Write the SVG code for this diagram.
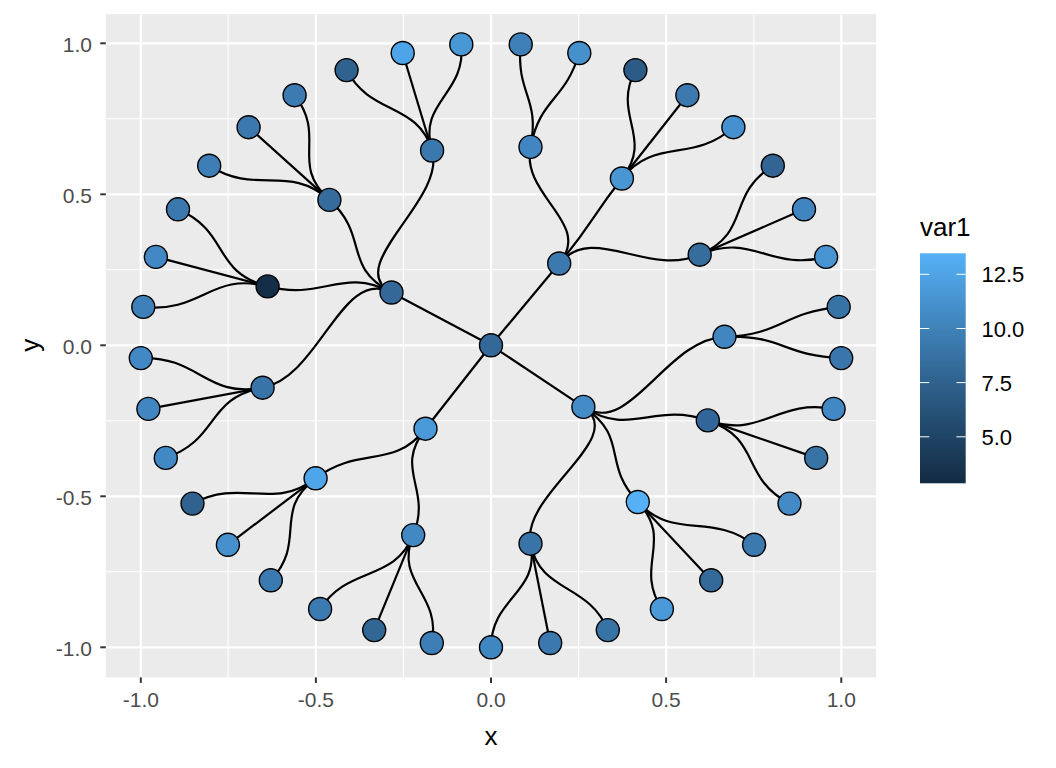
<svg xmlns="http://www.w3.org/2000/svg" width="1056" height="768" viewBox="0 0 1056 768">
<defs>
<linearGradient id="bar" x1="0" y1="1" x2="0" y2="0">
<stop offset="0" stop-color="#132B43"/>
<stop offset="0.25" stop-color="#224A6D"/>
<stop offset="0.5" stop-color="#336A98"/>
<stop offset="0.75" stop-color="#448DC7"/>
<stop offset="1" stop-color="#56B1F7"/>
</linearGradient>
<clipPath id="panel"><rect x="105.8" y="14.2" width="770.4" height="663.2"/></clipPath>
</defs>
<style>
.gmaj{stroke:#FFFFFF;stroke-width:2.2;fill:none}
.gmin{stroke:#FFFFFF;stroke-width:1.1;fill:none}
.tick{stroke:#333333;stroke-width:2;fill:none}
.lt{stroke:#FFFFFF;stroke-width:1;fill:none}
.edge{fill:none;stroke:#000000;stroke-width:2.2}
.nd{stroke:#000000;stroke-width:1.4}
.at{font-family:"Liberation Sans",Arial,sans-serif;font-size:21px;fill:#4D4D4D}
.ttl{font-family:"Liberation Sans",Arial,sans-serif;font-size:26px;fill:#000000}
.lg{font-family:"Liberation Sans",Arial,sans-serif;font-size:22px;fill:#000000}
</style>
<rect x="0" y="0" width="1056" height="768" fill="#FFFFFF"/>
<g id="panel-bg">
<rect x="105.8" y="14.2" width="770.4" height="663.2" fill="#EBEBEB"/>
<g clip-path="url(#panel)">
<g class="gmin">
<line x1="228.1" y1="14.2" x2="228.1" y2="677.4"/>
<line x1="403.4" y1="14.2" x2="403.4" y2="677.4"/>
<line x1="578.6" y1="14.2" x2="578.6" y2="677.4"/>
<line x1="753.9" y1="14.2" x2="753.9" y2="677.4"/>
<line x1="105.8" y1="118.8" x2="876.2" y2="118.8"/>
<line x1="105.8" y1="269.8" x2="876.2" y2="269.8"/>
<line x1="105.8" y1="420.8" x2="876.2" y2="420.8"/>
<line x1="105.8" y1="571.8" x2="876.2" y2="571.8"/>
</g>
<g class="gmaj">
<line x1="140.8" y1="14.2" x2="140.8" y2="677.4"/>
<line x1="315.9" y1="14.2" x2="315.9" y2="677.4"/>
<line x1="491" y1="14.2" x2="491" y2="677.4"/>
<line x1="666.1" y1="14.2" x2="666.1" y2="677.4"/>
<line x1="841.3" y1="14.2" x2="841.3" y2="677.4"/>
<line x1="105.8" y1="43.3" x2="876.2" y2="43.3"/>
<line x1="105.8" y1="194.3" x2="876.2" y2="194.3"/>
<line x1="105.8" y1="345.3" x2="876.2" y2="345.3"/>
<line x1="105.8" y1="496.3" x2="876.2" y2="496.3"/>
<line x1="105.8" y1="647.3" x2="876.2" y2="647.3"/>
</g>
</g>
</g>
<g id="axes">
<g class="tick">
<line x1="100.3" y1="43.3" x2="105.8" y2="43.3"/>
<line x1="100.3" y1="194.3" x2="105.8" y2="194.3"/>
<line x1="100.3" y1="345.3" x2="105.8" y2="345.3"/>
<line x1="100.3" y1="496.3" x2="105.8" y2="496.3"/>
<line x1="100.3" y1="647.3" x2="105.8" y2="647.3"/>
<line x1="140.8" y1="677.4" x2="140.8" y2="682.9"/>
<line x1="315.9" y1="677.4" x2="315.9" y2="682.9"/>
<line x1="491" y1="677.4" x2="491" y2="682.9"/>
<line x1="666.1" y1="677.4" x2="666.1" y2="682.9"/>
<line x1="841.3" y1="677.4" x2="841.3" y2="682.9"/>
</g>
<g class="at" text-anchor="end">
<text x="92" y="52.1">1.0</text>
<text x="92" y="203.1">0.5</text>
<text x="92" y="354.1">0.0</text>
<text x="92" y="505.1">-0.5</text>
<text x="92" y="656.1">-1.0</text>
</g>
<g class="at" text-anchor="middle">
<text x="140.8" y="707.3">-1.0</text>
<text x="315.9" y="707.3">-0.5</text>
<text x="491" y="707.3">0.0</text>
<text x="666.1" y="707.3">0.5</text>
<text x="841.3" y="707.3">1.0</text>
</g>
<text class="ttl" x="491" y="745" text-anchor="middle">x</text>
<text class="ttl" x="39" y="345.3" text-anchor="middle" transform="rotate(-90 39 345.3)">y</text>
</g>
<g id="connectors">
<path class="edge" d="M491,345.3 L391.5,292.5"/>
<path class="edge" d="M491,345.3 L559.2,263.5"/>
<path class="edge" d="M491,345.3 L583.4,406.9"/>
<path class="edge" d="M491,345.3 L425.5,428.7"/>
<path class="edge" d="M391.5,292.5 C341.8,266.2 446.8,199.2 432.1,150.5"/>
<path class="edge" d="M391.5,292.5 C341.8,266.2 369.8,236.3 329.4,199.9"/>
<path class="edge" d="M391.5,292.5 C341.8,266.2 323.4,301.1 267.6,286.4"/>
<path class="edge" d="M391.5,292.5 C341.8,266.2 319.7,377.1 262.6,387.7"/>
<path class="edge" d="M559.2,263.5 C593.2,222.7 647.5,277.3 699.7,254.7"/>
<path class="edge" d="M559.2,263.5 C593.2,222.7 589.2,220.2 621.9,178.5"/>
<path class="edge" d="M559.2,263.5 C593.2,222.7 520.6,196.5 530.5,146.9"/>
<path class="edge" d="M583.4,406.9 C629.7,437.7 666.1,338.9 724.5,336.8"/>
<path class="edge" d="M583.4,406.9 C629.7,437.7 653.6,401.6 707.8,420.4"/>
<path class="edge" d="M583.4,406.9 C629.7,437.7 601.1,462.8 637.8,502.0"/>
<path class="edge" d="M583.4,406.9 C629.7,437.7 520.6,494.1 530.5,543.7"/>
<path class="edge" d="M425.5,428.7 C392.8,470.4 359.5,445.1 315.6,478.3"/>
<path class="edge" d="M425.5,428.7 C392.8,470.4 432.6,487.7 413.2,535.1"/>
<path class="edge" d="M432.1,150.5 C417.4,101.8 466.2,94.5 461.3,44.4"/>
<path class="edge" d="M432.1,150.5 L402.7,53.0"/>
<path class="edge" d="M432.1,150.5 C417.4,101.8 370.7,116.0 346.6,70.1"/>
<path class="edge" d="M329.4,199.9 C289.0,163.6 327.4,136.8 294.6,95.2"/>
<path class="edge" d="M329.4,199.9 L248.6,127.2"/>
<path class="edge" d="M329.4,199.9 C289.0,163.6 256.2,195.7 209.2,165.7"/>
<path class="edge" d="M267.6,286.4 C211.7,271.6 230.2,232.0 178.0,209.3"/>
<path class="edge" d="M267.6,286.4 L155.9,256.9"/>
<path class="edge" d="M267.6,286.4 C211.7,271.6 201.3,313.3 143.3,306.9"/>
<path class="edge" d="M262.6,387.7 C205.5,398.3 199.2,356.0 140.8,358.1"/>
<path class="edge" d="M262.6,387.7 L148.4,408.9"/>
<path class="edge" d="M262.6,387.7 C205.5,398.3 220.0,439.1 165.8,457.9"/>
<path class="edge" d="M699.7,254.7 C751.8,232.0 770.3,271.6 826.1,256.9"/>
<path class="edge" d="M699.7,254.7 L804.0,209.3"/>
<path class="edge" d="M699.7,254.7 C751.8,232.0 725.8,195.7 772.8,165.7"/>
<path class="edge" d="M621.9,178.5 C654.7,136.8 693.0,163.6 733.4,127.2"/>
<path class="edge" d="M621.9,178.5 L687.4,95.2"/>
<path class="edge" d="M621.9,178.5 C654.7,136.8 611.3,116.0 635.4,70.1"/>
<path class="edge" d="M530.5,146.9 C540.4,97.3 564.6,101.8 579.3,53.0"/>
<path class="edge" d="M530.5,146.9 C540.4,97.3 515.8,94.5 520.7,44.4"/>
<path class="edge" d="M724.5,336.8 C782.8,334.6 782.8,356.0 841.2,358.1"/>
<path class="edge" d="M724.5,336.8 C782.8,334.6 780.7,313.3 838.7,306.9"/>
<path class="edge" d="M707.8,420.4 C762.0,439.1 739.8,477.2 789.5,503.6"/>
<path class="edge" d="M707.8,420.4 L816.2,457.9"/>
<path class="edge" d="M707.8,420.4 C762.0,439.1 776.5,398.3 833.6,408.9"/>
<path class="edge" d="M637.8,502.0 C674.5,541.1 633.5,565.0 661.9,609.0"/>
<path class="edge" d="M637.8,502.0 L711.2,580.3"/>
<path class="edge" d="M637.8,502.0 C674.5,541.1 710.3,511.6 754.1,544.8"/>
<path class="edge" d="M530.5,543.7 C540.4,593.4 491.0,597.0 491.0,647.3"/>
<path class="edge" d="M530.5,543.7 L550.2,643.0"/>
<path class="edge" d="M530.5,543.7 C540.4,593.4 588.3,582.6 607.8,630.1"/>
<path class="edge" d="M315.6,478.3 C271.8,511.6 242.3,477.2 192.5,503.6"/>
<path class="edge" d="M315.6,478.3 L227.9,544.8"/>
<path class="edge" d="M315.6,478.3 C271.8,511.6 307.5,541.1 270.8,580.3"/>
<path class="edge" d="M413.2,535.1 C393.7,582.6 348.6,565.0 320.1,609.0"/>
<path class="edge" d="M413.2,535.1 L374.2,630.1"/>
<path class="edge" d="M413.2,535.1 C393.7,582.6 441.6,593.4 431.8,643.0"/>
</g>
<g id="nodes">
<g id="n-root"><circle class="nd" cx="491" cy="345.3" r="11.5" fill="#336898"/></g>
<g id="n-a"><circle class="nd" cx="391.5" cy="292.5" r="11.5" fill="#336898"/></g>
<g id="n-b"><circle class="nd" cx="559.2" cy="263.5" r="11.5" fill="#3B79AF"/></g>
<g id="n-c"><circle class="nd" cx="583.4" cy="406.9" r="11.5" fill="#438CC8"/></g>
<g id="n-d"><circle class="nd" cx="425.5" cy="428.7" r="11.5" fill="#4A9ADA"/></g>
<g id="n-a1"><circle class="nd" cx="432.1" cy="150.5" r="11.5" fill="#3A78AD"/></g>
<g id="n-a2"><circle class="nd" cx="329.4" cy="199.9" r="11.5" fill="#356C9C"/></g>
<g id="n-a3"><circle class="nd" cx="267.6" cy="286.4" r="11.5" fill="#152E48"/></g>
<g id="n-a4"><circle class="nd" cx="262.6" cy="387.7" r="11.5" fill="#3874A7"/></g>
<g id="n-b1"><circle class="nd" cx="699.7" cy="254.7" r="11.5" fill="#356D9D"/></g>
<g id="n-b2"><circle class="nd" cx="621.9" cy="178.5" r="11.5" fill="#4896D4"/></g>
<g id="n-b3"><circle class="nd" cx="530.5" cy="146.9" r="11.5" fill="#4186C2"/></g>
<g id="n-c1"><circle class="nd" cx="724.5" cy="336.8" r="11.5" fill="#4186C1"/></g>
<g id="n-c2"><circle class="nd" cx="707.8" cy="420.4" r="11.5" fill="#32669A"/></g>
<g id="n-c3"><circle class="nd" cx="637.8" cy="502.0" r="11.5" fill="#56B0F6"/></g>
<g id="n-c4"><circle class="nd" cx="530.5" cy="543.7" r="11.5" fill="#3874A8"/></g>
<g id="n-d1"><circle class="nd" cx="315.6" cy="478.3" r="11.5" fill="#4EA5EA"/></g>
<g id="n-d2"><circle class="nd" cx="413.2" cy="535.1" r="11.5" fill="#4289C4"/></g>
<g id="n-l0"><circle class="nd" cx="491.0" cy="647.3" r="11.5" fill="#4086C0"/></g>
<g id="n-l1"><circle class="nd" cx="550.2" cy="643.0" r="11.5" fill="#3A78AE"/></g>
<g id="n-l2"><circle class="nd" cx="607.8" cy="630.1" r="11.5" fill="#3873A6"/></g>
<g id="n-l3"><circle class="nd" cx="661.9" cy="609.0" r="11.5" fill="#4A9ADA"/></g>
<g id="n-l4"><circle class="nd" cx="711.2" cy="580.3" r="11.5" fill="#346A9A"/></g>
<g id="n-l5"><circle class="nd" cx="754.1" cy="544.8" r="11.5" fill="#3B79AF"/></g>
<g id="n-l6"><circle class="nd" cx="789.5" cy="503.6" r="11.5" fill="#4289C5"/></g>
<g id="n-l7"><circle class="nd" cx="816.2" cy="457.9" r="11.5" fill="#3873A6"/></g>
<g id="n-l8"><circle class="nd" cx="833.6" cy="408.9" r="11.5" fill="#4288C4"/></g>
<g id="n-l9"><circle class="nd" cx="841.2" cy="358.1" r="11.5" fill="#3A76AB"/></g>
<g id="n-l10"><circle class="nd" cx="838.7" cy="306.9" r="11.5" fill="#3873A6"/></g>
<g id="n-l11"><circle class="nd" cx="826.1" cy="256.9" r="11.5" fill="#4894D2"/></g>
<g id="n-l12"><circle class="nd" cx="804.0" cy="209.3" r="11.5" fill="#4085C0"/></g>
<g id="n-l13"><circle class="nd" cx="772.8" cy="165.7" r="11.5" fill="#326494"/></g>
<g id="n-l14"><circle class="nd" cx="733.4" cy="127.2" r="11.5" fill="#4591CF"/></g>
<g id="n-l15"><circle class="nd" cx="687.4" cy="95.2" r="11.5" fill="#3B79AF"/></g>
<g id="n-l16"><circle class="nd" cx="635.4" cy="70.1" r="11.5" fill="#2C5B87"/></g>
<g id="n-l17"><circle class="nd" cx="579.3" cy="53.0" r="11.5" fill="#4690CC"/></g>
<g id="n-l18"><circle class="nd" cx="520.7" cy="44.4" r="11.5" fill="#3F7FB7"/></g>
<g id="n-l19"><circle class="nd" cx="461.3" cy="44.4" r="11.5" fill="#4898D6"/></g>
<g id="n-l20"><circle class="nd" cx="402.7" cy="53.0" r="11.5" fill="#4EA4E8"/></g>
<g id="n-l21"><circle class="nd" cx="346.6" cy="70.1" r="11.5" fill="#30628F"/></g>
<g id="n-l22"><circle class="nd" cx="294.6" cy="95.2" r="11.5" fill="#3C7BB1"/></g>
<g id="n-l23"><circle class="nd" cx="248.6" cy="127.2" r="11.5" fill="#3A78AE"/></g>
<g id="n-l24"><circle class="nd" cx="209.2" cy="165.7" r="11.5" fill="#3D7EB6"/></g>
<g id="n-l25"><circle class="nd" cx="178.0" cy="209.3" r="11.5" fill="#3A78AE"/></g>
<g id="n-l26"><circle class="nd" cx="155.9" cy="256.9" r="11.5" fill="#4288C5"/></g>
<g id="n-l27"><circle class="nd" cx="143.3" cy="306.9" r="11.5" fill="#3E80BA"/></g>
<g id="n-l28"><circle class="nd" cx="140.8" cy="358.1" r="11.5" fill="#4288C5"/></g>
<g id="n-l29"><circle class="nd" cx="148.4" cy="408.9" r="11.5" fill="#4186C1"/></g>
<g id="n-l30"><circle class="nd" cx="165.8" cy="457.9" r="11.5" fill="#4288C4"/></g>
<g id="n-l31"><circle class="nd" cx="192.5" cy="503.6" r="11.5" fill="#30628F"/></g>
<g id="n-l32"><circle class="nd" cx="227.9" cy="544.8" r="11.5" fill="#4690CE"/></g>
<g id="n-l33"><circle class="nd" cx="270.8" cy="580.3" r="11.5" fill="#3B7AB0"/></g>
<g id="n-l34"><circle class="nd" cx="320.1" cy="609.0" r="11.5" fill="#3C7AB2"/></g>
<g id="n-l35"><circle class="nd" cx="374.2" cy="630.1" r="11.5" fill="#326694"/></g>
<g id="n-l36"><circle class="nd" cx="431.8" cy="643.0" r="11.5" fill="#3D7EB6"/></g>
</g>
<g id="legend">
<text class="ttl" x="920" y="235.5">var1</text>
<rect x="920" y="253.3" width="45.7" height="230" fill="url(#bar)"/>
<g class="lt">
<line x1="920" y1="274.3" x2="929.3" y2="274.3"/>
<line x1="956.4" y1="274.3" x2="965.7" y2="274.3"/>
<line x1="920" y1="328.5" x2="929.3" y2="328.5"/>
<line x1="956.4" y1="328.5" x2="965.7" y2="328.5"/>
<line x1="920" y1="382.6" x2="929.3" y2="382.6"/>
<line x1="956.4" y1="382.6" x2="965.7" y2="382.6"/>
<line x1="920" y1="436.8" x2="929.3" y2="436.8"/>
<line x1="956.4" y1="436.8" x2="965.7" y2="436.8"/>
</g>
<g class="lg">
<text x="981.5" y="282.3">12.5</text>
<text x="981.5" y="336.5">10.0</text>
<text x="981.5" y="390.6">7.5</text>
<text x="981.5" y="444.8">5.0</text>
</g>
</g>
</svg>
